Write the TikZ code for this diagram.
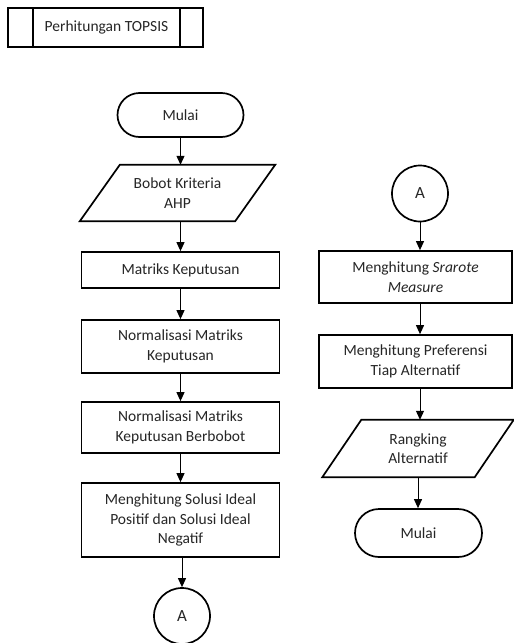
\documentclass[tikz,border=0pt]{standalone}
\usepackage{fontspec}
\setmainfont{Carlito}
\usetikzlibrary{arrows.meta,calc}
\begin{document}
\begin{tikzpicture}[x=1pt,y=-1pt,
  every node/.style={font=\fontsize{15.5}{19.5}\selectfont, text=black!85, align=center, inner sep=0pt},
  procbox/.style={draw, line width=1.7pt, rectangle, minimum width=#1},
  procbox/.default=198pt,
  termbox/.style={draw, line width=1.7pt, rounded corners=22pt, minimum height=44pt},
  conn/.style={draw, line width=1.7pt, circle, minimum size=56pt, font=\fontsize{17}{19.5}\selectfont},
  iobox/.style={inner sep=0pt},
  arr/.style={line width=1pt, -{Triangle[length=9pt,width=8pt]}},
  shapeline/.style={line width=1.7pt}
]
\useasboundingbox (0,0) rectangle (514,643);
\fill[white] (0,0) rectangle (514,643);

% title
\node[draw, line width=1.7pt, minimum width=195pt, minimum height=39pt] (title) at (105.5,27.5) {};
\node (titletxt) at (106.5,27.5) {Perhitungan TOPSIS};
\draw[shapeline] (33,0 |- title.north) coordinate (tl1) -- (33,0 |- title.south) coordinate (tl2);
\draw[shapeline] (180,0 |- title.north) coordinate (tr1) -- (180,0 |- title.south) coordinate (tr2);

% left column
\node[termbox, minimum width=126pt] (mulai1) at (180.5,115) {Mulai};
\node[iobox, minimum width=155pt, minimum height=56pt] (bobot) at (177.5,193) {Bobot Kriteria\\AHP};
\draw[shapeline] ([xshift=-20pt]bobot.south west) -- ([xshift=20pt]bobot.north west)
  -- ([xshift=20pt]bobot.north east) -- ([xshift=-20pt]bobot.south east) -- cycle;
\node[procbox, minimum height=36pt] (matriks) at (180.5,270) {Matriks Keputusan};
\node[procbox, minimum height=53pt] (norm) at (180.5,346.5) {Normalisasi Matriks\\Keputusan};
\node[procbox, minimum height=51pt] (berbobot) at (180.5,427.5) {Normalisasi Matriks\\Keputusan Berbobot};
\node[procbox, minimum height=74pt] (solusi) at (180.5,520) {Menghitung Solusi Ideal\\Positif dan Solusi Ideal\\Negatif};
\node[conn] (a1) at (182,616) {A};

\draw[arr] (mulai1.south) -- (mulai1.south |- bobot.north);
\draw[arr] (matriks.north |- bobot.south) -- (matriks.north);
\draw[arr] (matriks.south) -- (norm.north);
\draw[arr] (norm.south) -- (berbobot.north);
\draw[arr] (berbobot.south) -- (solusi.north);
\draw[arr] (a1.north |- solusi.south) -- (a1.north);

% right column
\node[conn] (a2) at (420,193.5) {A};
\node[procbox=193pt, minimum height=52pt] (srarote) at (415.5,277) {Menghitung \textit{Srarote}\\\textit{Measure}};
\node[procbox=193pt, minimum height=53pt] (pref) at (415.5,361.5) {Menghitung Preferensi\\Tiap Alternatif};
\node[iobox, minimum width=152pt, minimum height=57pt] (rank) at (418,448.5) {Rangking\\Alternatif};
\draw[shapeline] ([xshift=-19.5pt]rank.south west) -- ([xshift=19.5pt]rank.north west)
  -- ([xshift=19.5pt]rank.north east) -- ([xshift=-19.5pt]rank.south east) -- cycle;
\node[termbox, minimum width=127pt, minimum height=48pt, rounded corners=24pt] (mulai2) at (418.5,533) {Mulai};

\draw[arr] (a2.south) -- (a2.south |- srarote.north);
\draw[arr] (a2.south |- srarote.south) -- (a2.south |- pref.north);
\draw[arr] (a2.south |- pref.south) -- (a2.south |- rank.north);
\draw[arr] (rank.south) -- (rank.south |- mulai2.north);
\end{tikzpicture}
\end{document}
